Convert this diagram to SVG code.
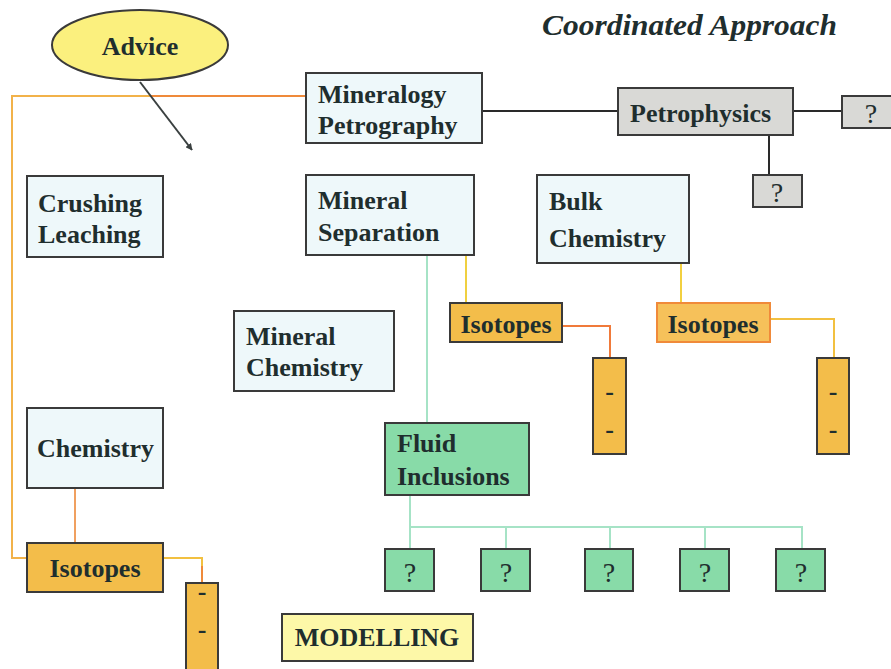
<svg xmlns="http://www.w3.org/2000/svg" width="891" height="669" viewBox="0 0 891 669">
<defs>
<marker id="arr" viewBox="0 0 10 10" refX="9" refY="5" markerWidth="7" markerHeight="7" orient="auto-start-reverse" markerUnits="userSpaceOnUse">
<path d="M0,0 L10,5 L0,10 z" fill="#3a4040"/>
</marker>
</defs>
<style>
text{font-family:"Liberation Serif","Times New Roman",serif;font-weight:bold;font-size:26px;fill:#1f2e2e}
.c{text-anchor:middle}
.q{font-weight:normal;font-size:28px}
.blue{fill:#eef8fa;stroke:#3a3a3a;stroke-width:2}
.gray{fill:#d9d9d6;stroke:#3a3a3a;stroke-width:2}
.iso{fill:#f3bd4a;stroke:#3a3a3a;stroke-width:2}
.green{fill:#88dba8;stroke:#3a3a3a;stroke-width:2}
.conn{fill:none;stroke-width:2}
</style>
<rect width="891" height="669" fill="#ffffff"/>
<text x="542" y="35" style="font-style:italic;font-size:30px" textLength="295" lengthAdjust="spacingAndGlyphs">Coordinated Approach</text>

<g id="connectors">
<polyline class="conn" points="306,96 12,96 12,558 27,558" stroke="#f2b24a"/>
<line class="conn" x1="150" y1="96" x2="306" y2="96" stroke="#ef8a3a"/>
<line x1="140" y1="82" x2="192" y2="150" stroke="#3a4040" stroke-width="2" marker-end="url(#arr)"/>
<line class="conn" x1="482" y1="111" x2="618" y2="111" stroke="#2a2a2a"/>
<line class="conn" x1="793" y1="111" x2="842" y2="111" stroke="#2a2a2a"/>
<line class="conn" x1="769" y1="135" x2="769" y2="175" stroke="#2a2a2a"/>
<line class="conn" x1="466" y1="255" x2="466" y2="303" stroke="#f0d040"/>
<polyline class="conn" points="562,326 610,326 610,358" stroke="#f07a3a"/>
<line class="conn" x1="681" y1="263" x2="681" y2="303" stroke="#f2d040"/>
<polyline class="conn" points="770,319 834,319 834,358" stroke="#f2c040"/>
<line class="conn" x1="427" y1="255" x2="427" y2="423" stroke="#a6e3c6"/>
<polyline class="conn" points="410,495 410,527 802,527 802,549" stroke="#a6e3c6"/>
<line class="conn" x1="506" y1="527" x2="506" y2="549" stroke="#a6e3c6"/>
<line class="conn" x1="610" y1="527" x2="610" y2="549" stroke="#a6e3c6"/>
<line class="conn" x1="705" y1="527" x2="705" y2="549" stroke="#a6e3c6"/>
<line class="conn" x1="410" y1="527" x2="410" y2="549" stroke="#a6e3c6"/>
<line class="conn" x1="75" y1="488" x2="75" y2="543" stroke="#f0a060"/>
<polyline class="conn" points="163,558 202,558 202,583" stroke="#f2c040"/>
<line class="conn" x1="202" y1="566" x2="202" y2="583" stroke="#ef8a3a"/>
</g>

<g id="advice">
<ellipse cx="140" cy="45" rx="88" ry="35" fill="#fbf07e" stroke="#3a3a3a" stroke-width="2"/>
<text x="140" y="55" class="c">Advice</text>
</g>
<g id="crushing-leaching">
<rect class="blue" x="27" y="176" width="136" height="81"/>
<text x="38" y="212">Crushing</text>
<text x="38" y="243">Leaching</text>
</g>
<g id="mineralogy-petrography">
<rect class="blue" x="306" y="73" width="176" height="70"/>
<text x="318" y="103">Mineralogy</text>
<text x="318" y="134">Petrography</text>
</g>
<g id="petrophysics">
<rect class="gray" x="618" y="88" width="175" height="47"/>
<text x="630" y="122">Petrophysics</text>
</g>
<g id="q-right">
<rect class="gray" x="842" y="96" width="60" height="32"/>
<text x="871" y="123" class="c q">?</text>
</g>
<g id="q-below">
<rect class="gray" x="753" y="175" width="49" height="32"/>
<text x="777" y="202" class="c q">?</text>
</g>
<g id="mineral-separation">
<rect class="blue" x="306" y="175" width="168" height="80"/>
<text x="318" y="209">Mineral</text>
<text x="318" y="241">Separation</text>
</g>
<g id="bulk-chemistry">
<rect class="blue" x="537" y="175" width="152" height="88"/>
<text x="549" y="210">Bulk</text>
<text x="549" y="247">Chemistry</text>
</g>
<g id="isotopes-mid">
<rect class="iso" x="450" y="303" width="112" height="39"/>
<text x="506" y="333" class="c">Isotopes</text>
</g>
<g id="isotopes-right">
<rect x="657" y="303" width="113" height="39" fill="#f6c15a" stroke="#f08a3a" stroke-width="2"/>
<text x="713" y="333" class="c">Isotopes</text>
</g>
<g id="dash-mid">
<rect class="iso" x="593" y="358" width="33" height="96"/>
<text x="609.5" y="400" class="c">-</text>
<text x="609.5" y="438" class="c">-</text>
</g>
<g id="dash-right">
<rect class="iso" x="817" y="358" width="32" height="96"/>
<text x="833" y="400" class="c">-</text>
<text x="833" y="438" class="c">-</text>
</g>
<g id="mineral-chemistry">
<rect class="blue" x="234" y="311" width="160" height="80"/>
<text x="246" y="345">Mineral</text>
<text x="246" y="376">Chemistry</text>
</g>
<g id="fluid-inclusions">
<rect class="green" x="385" y="423" width="144" height="72"/>
<text x="397" y="452">Fluid</text>
<text x="397" y="485">Inclusions</text>
</g>
<g id="q1"><rect class="green" x="385" y="549" width="49" height="42"/><text x="410" y="582" class="c q">?</text></g>
<g id="q2"><rect class="green" x="481" y="549" width="49" height="42"/><text x="506" y="582" class="c q">?</text></g>
<g id="q3"><rect class="green" x="585" y="549" width="48" height="42"/><text x="609" y="582" class="c q">?</text></g>
<g id="q4"><rect class="green" x="680" y="549" width="49" height="42"/><text x="705" y="582" class="c q">?</text></g>
<g id="q5"><rect class="green" x="776" y="549" width="49" height="42"/><text x="801" y="582" class="c q">?</text></g>
<g id="chemistry">
<rect class="blue" x="27" y="408" width="136" height="80"/>
<text x="37" y="457">Chemistry</text>
</g>
<g id="isotopes-left">
<rect class="iso" x="27" y="543" width="136" height="49"/>
<text x="95" y="577" class="c">Isotopes</text>
</g>
<g id="dash-left">
<rect class="iso" x="186" y="583" width="32" height="100"/>
<text x="202" y="600" class="c">-</text>
<text x="202" y="638" class="c">-</text>
</g>
<g id="modelling">
<rect x="282" y="614" width="191" height="47" fill="#fdf8a8" stroke="#3a3a3a" stroke-width="2"/>
<text x="377" y="646" class="c">MODELLING</text>
</g>
</svg>
